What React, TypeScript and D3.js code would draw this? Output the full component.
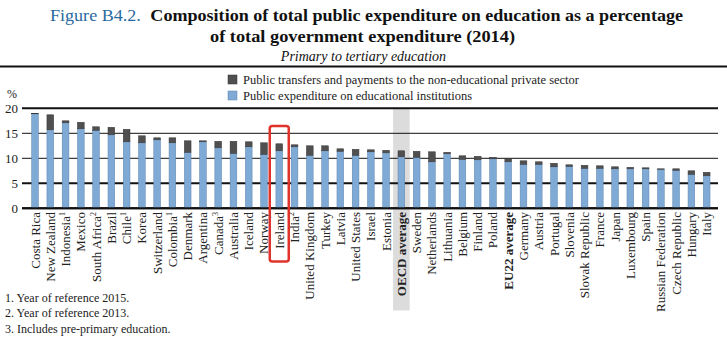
import React from "react";
import * as d3 from "d3";

const categories = [
  "Costa Rica", "New Zealand", "Indonesia", "Mexico", "South Africa", "Brazil", "Chile", "Korea",
  "Switzerland", "Colombia", "Denmark", "Argentina", "Canada", "Australia", "Iceland", "Norway",
  "Ireland", "India", "United Kingdom", "Turkey", "Latvia", "United States", "Israel", "Estonia",
  "OECD average", "Sweden", "Netherlands", "Lithuania", "Belgium", "Finland", "Poland", "EU22 average",
  "Germany", "Austria", "Portugal", "Slovenia", "Slovak Republic", "France", "Japan", "Luxembourg",
  "Spain", "Russian Federation", "Czech Republic", "Hungary", "Italy",
];
const footnoteMarks = ["", "", "1", "", "2", "", "1", "", "", "1", "", "", "3", "", "", "",
  "", "2", "", "", "", "", "", "", "", "", "", "", "", "", "", "",
  "", "", "", "", "", "", "", "", "", "", "", "", ""];

// Public expenditure on educational institutions
const institutions = [
  18.9, 15.7, 17.1, 15.9, 15.6, 14.7, 13.3, 13.1,
  13.7, 13.1, 11.2, 13.3, 12.1, 11.0, 12.3, 10.8,
  11.5, 12.3, 10.6, 11.5, 11.4, 10.6, 11.3, 11.1,
  10.3, 10.2, 9.3, 10.9, 9.8, 9.7, 9.9, 9.3,
  8.8, 8.8, 8.3, 8.4, 8.0, 8.0, 7.9, 7.9,
  7.9, 7.8, 7.6, 6.8, 6.5,
];
// Total (institutions + transfers to non-educational private sector)
const totals = [
  19.0, 18.7, 17.5, 17.2, 16.3, 16.2, 15.8, 14.5,
  14.1, 14.1, 13.5, 13.5, 13.4, 13.4, 13.3, 13.1,
  12.9, 12.7, 12.5, 12.5, 11.9, 11.8, 11.7, 11.6,
  11.5, 11.4, 11.3, 11.2, 10.5, 10.4, 10.2, 9.9,
  9.5, 9.3, 9.0, 8.7, 8.6, 8.5, 8.3, 8.2,
  8.1, 7.9, 7.9, 7.5, 7.2,
];
const yTicks = [0, 5, 10, 15, 20];
const footnotes = [
  "1. Year of reference 2015.",
  "2. Year of reference 2013.",
  "3. Includes pre-primary education.",
];
const legendLabels = [
  "Public transfers and payments to the non-educational private sector",
  "Public expenditure on educational institutions",
];

const SERIF = "'Liberation Serif', 'DejaVu Serif', serif";
const BLUE = "#80aad6";
const BLUE_STROKE = "#5a84ae";
const DARK = "#505050";
const DARK_STROKE = "#333333";

export default function App() {
  const W = 727;
  const H = 341;
  const x = d3.scaleBand<string>().domain(categories).range([27.4, 714.3]).paddingInner(0.56).paddingOuter(0.28);
  const y = d3.scaleLinear().domain([0, 20]).range([208.3, 108.3]);
  const bw = x.bandwidth();
  const gridX0 = 22;
  const gridX1 = 718;

  const oecdX = x("OECD average")! + bw / 2;
  const irlX = x("Ireland")! + bw / 2;

  return (
    <svg width={W} height={H} style={{ position: "absolute", left: 0, top: 0, background: "#fff" }}
      fontFamily={SERIF}>
      {/* Title */}
      <text x={50} y={21} fontSize={17} textLength={633} lengthAdjust="spacingAndGlyphs">
        <tspan fill="#2a6aa0">Figure B4.2.</tspan>
        <tspan fontWeight="bold" fill="#111" dx={9}>Composition of total public expenditure on education as a percentage</tspan>
      </text>
      <text x={210} y={42} fontSize={17} fontWeight="bold" fill="#111" textLength={305}
        lengthAdjust="spacingAndGlyphs">
        of total government expenditure (2014)
      </text>
      <text x={W / 2} y={61} textAnchor="middle" fontSize={14} fontStyle="italic" fill="#111">
        Primary to tertiary education
      </text>
      <line x1={0} x2={W} y1={66.5} y2={66.5} stroke="#111" strokeWidth={2} />

      {/* Legend */}
      <rect x={228} y={75} width={9} height={9} fill={DARK} stroke={DARK_STROKE} strokeWidth={0.5} />
      <text x={243} y={84} fontSize={12.5} fill="#222">{legendLabels[0]}</text>
      <rect x={228} y={91} width={9} height={9} fill={BLUE} stroke={BLUE_STROKE} strokeWidth={0.5} />
      <text x={243} y={100} fontSize={12.5} fill="#222">{legendLabels[1]}</text>

      {/* OECD band */}
      <rect x={oecdX - 8.3} y={108} width={16.6} height={310.5 - 108} fill="#dcdcdc" />

      {/* Y axis */}
      <text x={12} y={98} fontSize={12} textAnchor="middle" fill="#222">%</text>
      {yTicks.map((t) => (
        <g key={t}>
          <line x1={gridX0} x2={gridX1} y1={y(t)} y2={y(t)} stroke="#111"
            strokeWidth={t === 15 || t === 10 ? 1 : 2} />
          <text x={18} y={y(t) + 4.5} fontSize={13} textAnchor="end" fill="#222">{t}</text>
        </g>
      ))}

      {/* Bars */}
      {categories.map((c, i) => {
        const bx = x(c)!;
        return (
          <g key={c}>
            <rect x={bx} y={y(institutions[i])} width={bw} height={y(0) - y(institutions[i])}
              fill={BLUE} stroke={BLUE_STROKE} strokeWidth={0.5} />
            {totals[i] > institutions[i] && (
              <rect x={bx} y={y(totals[i])} width={bw} height={y(institutions[i]) - y(totals[i])}
                fill={DARK} stroke={DARK_STROKE} strokeWidth={0.5} />
            )}
          </g>
        );
      })}
      <line x1={gridX0} x2={gridX1} y1={y(0)} y2={y(0)} stroke="#111" strokeWidth={2} />

      {/* X labels */}
      {categories.map((c, i) => {
        const cx = x(c)! + bw / 2;
        const bold = c.includes("average");
        return (
          <text key={c} transform={`translate(${cx + 4.5},212) rotate(-90)`} textAnchor="end"
            fontSize={13} fontWeight={bold ? "bold" : "normal"} fill="#222">
            {c}
            {footnoteMarks[i] && <tspan fontSize={8} dy={-5}>{footnoteMarks[i]}</tspan>}
          </text>
        );
      })}

      {/* Ireland highlight */}
      <rect x={irlX - 9.5} y={126} width={19} height={261.5 - 126} rx={2.5} fill="none"
        stroke="#e0332b" strokeWidth={2.5} />

      {/* Footnotes */}
      {footnotes.map((f, i) => (
        <text key={f} x={5} y={301.5 + i * 15.7} fontSize={12} fill="#222">{f}</text>
      ))}
    </svg>
  );
}
